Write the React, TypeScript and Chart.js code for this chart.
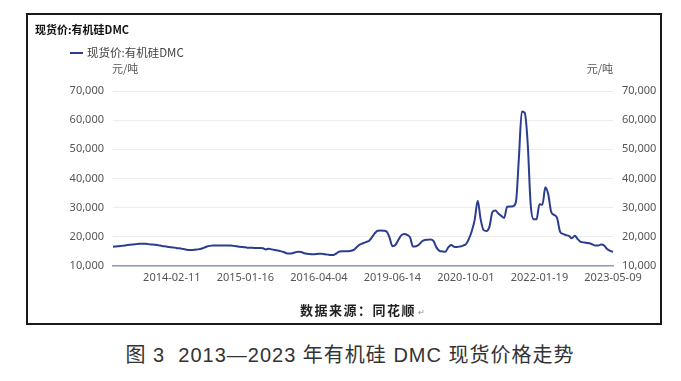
import React, { useEffect, useRef } from 'react';
import { Chart, registerables } from 'chart.js';

Chart.register(...registerables);

const chartTitle = '现货价:有机硅DMC';
const seriesName = '现货价:有机硅DMC';
const unitLabel = '元/吨';
const sourceText = '数据来源：同花顺';
const captionText = '图 3  2013—2023 年有机硅 DMC 现货价格走势';

const tickDates = ['2014-02-11', '2015-01-16', '2016-04-04', '2019-06-14', '2020-10-01', '2022-01-19', '2023-05-09'];
const tickPointIndex = [20, 45, 70, 95, 120, 145, 170];

const yMin = 10000;
const yMax = 70000;
const yStep = 10000;

const prices = [
  16600, 16700, 16800, 16900, 17000, 17200, 17300, 17400, 17500, 17600,
  17600, 17600, 17500, 17400, 17300, 17200, 17000, 16800, 16700, 16500,
  16400, 16300, 16100, 16000, 15800, 15600, 15500, 15500, 15600, 15700,
  15900, 16300, 16700, 16900, 17000, 17000, 17000, 17000, 17000, 17000,
  17000, 16900, 16800, 16600, 16500, 16400, 16300, 16300, 16200, 16200,
  16200, 16100, 15700, 15900, 15700, 15500, 15300, 15100, 14800, 14400,
  14300, 14400, 14700, 14900, 14800, 14400, 14200, 14100, 14000, 14100,
  14200, 14200, 14000, 13900, 13800, 13800, 14300, 15000, 15100, 15100,
  15100, 15200, 15600, 16600, 17400, 17800, 18200, 18600, 19800, 21200,
  22100, 22200, 22100, 21800, 19800, 16800, 17200, 18900, 20500, 21000,
  20700, 19800, 16700, 16800, 17300, 18400, 18900, 19000, 19100, 18500,
  16300, 15200, 15000, 14900, 16400, 17200, 16600, 16500, 16700, 17000,
  17500, 19300, 22000, 26000, 32400, 26000, 22300, 22000, 23500, 28500,
  29000, 28000, 27200, 26500, 30300, 30400, 30500, 32000, 47000, 63000,
  62500, 52000, 31200, 26000, 26000, 31200, 31000, 37000, 34500, 28500,
  27500, 26400, 21800, 21000, 20600, 20300, 19500, 20400, 19200, 18300,
  18100, 17900, 17800, 17400, 17000, 17000, 17400, 17000, 15800, 15200,
  14900,
];

const LINE_COLOR = '#2b3d8c';
const TICK_FONT = '"Noto Sans", "Noto Sans CJK SC", sans-serif';

export default function App() {
  const canvasRef = useRef<HTMLCanvasElement | null>(null);

  useEffect(() => {
    const canvas = canvasRef.current;
    if (!canvas) return;

    const categories = prices.map((_, i) => {
      const k = tickPointIndex.indexOf(i);
      return k >= 0 ? tickDates[k] : '';
    });

    const overlayPlugin = {
      id: 'overlayText',
      afterDraw(chart: any) {
        const ctx = chart.ctx;
        const area = chart.chartArea;
        ctx.save();
        ctx.fillStyle = '#111';
        ctx.font = 'bold 11px "Noto Sans CJK SC", sans-serif';
        ctx.textAlign = 'left';
        ctx.textBaseline = 'middle';
        ctx.fillText(chartTitle, 7, 15);
        ctx.strokeStyle = LINE_COLOR;
        ctx.lineWidth = 2;
        ctx.beginPath();
        ctx.moveTo(42, 38);
        ctx.lineTo(55, 38);
        ctx.stroke();
        ctx.fillStyle = '#444';
        ctx.font = '11.5px "Noto Sans CJK SC", sans-serif';
        ctx.fillText(seriesName, 59, 38);
        ctx.fillStyle = '#555';
        ctx.font = '11px "Noto Sans CJK SC", sans-serif';
        ctx.textAlign = 'left';
        ctx.fillText(unitLabel, area.left - 1, 54);
        ctx.textAlign = 'right';
        ctx.fillText(unitLabel, area.right, 54);
        ctx.restore();
      },
    };

    const yTickCfg = {
      color: '#555',
      font: { family: TICK_FONT, size: 11 },
      padding: 9,
      stepSize: yStep,
      callback: (v: any) => Number(v).toLocaleString('en-US'),
    };

    const chart = new Chart(canvas, {
      type: 'line',
      data: {
        labels: categories,
        datasets: [
          {
            label: seriesName,
            data: prices,
            borderColor: LINE_COLOR,
            backgroundColor: LINE_COLOR,
            borderWidth: 2,
            pointRadius: 0,
            cubicInterpolationMode: 'monotone',
            fill: false,
          },
        ],
      },
      options: {
        responsive: false,
        animation: false,
        devicePixelRatio: 1,
        layout: { padding: { top: 76, left: 0, right: 0, bottom: 0 } },
        plugins: {
          legend: { display: false },
          title: { display: false },
          tooltip: { enabled: false },
        },
        scales: {
          x: {
            type: 'category',
            grid: { display: false, drawTicks: false },
            border: { display: true, color: '#8d9dc6', width: 1.5 },
            ticks: {
              autoSkip: false,
              maxRotation: 0,
              minRotation: 0,
              padding: 5,
              color: '#555',
              font: { family: TICK_FONT, size: 11 },
            },
            afterBuildTicks: (axis: any) => {
              axis.ticks = tickPointIndex.map((v) => ({ value: v }));
            },
            afterFit: (scale: any) => {
              scale.height = 39;
            },
          },
          y: {
            position: 'left',
            min: yMin,
            max: yMax,
            grid: { color: '#ececec', lineWidth: 1, drawTicks: false },
            border: { display: false },
            ticks: yTickCfg,
            afterFit: (scale: any) => {
              scale.width = 85;
            },
          },
          y1: {
            position: 'right',
            min: yMin,
            max: yMax,
            grid: { display: false, drawTicks: false },
            border: { display: false },
            ticks: yTickCfg,
            afterFit: (scale: any) => {
              scale.width = 47;
            },
          },
        },
      } as any,
      plugins: [overlayPlugin],
    });

    return () => {
      chart.destroy();
    };
  }, []);

  return (
    <div style={{ position: 'absolute', left: 0, top: 0, width: 681, height: 381, background: '#fff', overflow: 'hidden' }}>
      <div
        style={{
          position: 'absolute',
          left: 26,
          top: 13,
          width: 636,
          height: 312,
          border: '2px solid #1a1a1a',
          boxSizing: 'border-box',
        }}
      />
      <canvas
        ref={canvasRef}
        width={632}
        height={290}
        style={{ position: 'absolute', left: 28, top: 15, width: 632, height: 290 }}
      />
      <div
        style={{
          position: 'absolute',
          left: 300,
          top: 301,
          fontFamily: '"Noto Sans CJK SC", sans-serif',
          fontWeight: 700,
          fontSize: 13,
          letterSpacing: 1.5,
          color: '#222',
          lineHeight: '18px',
          whiteSpace: 'nowrap',
        }}
      >
        {sourceText}
        <span style={{ fontSize: 8, fontWeight: 400, color: '#888', marginLeft: 2 }}>↵</span>
      </div>
      <div
        style={{
          position: 'absolute',
          left: 0,
          top: 343,
          width: 700,
          textAlign: 'center',
          fontFamily: '"Liberation Sans", "Noto Sans CJK SC", sans-serif',
          fontSize: 20,
          letterSpacing: 1,
          color: '#333',
          lineHeight: '24px',
          whiteSpace: 'pre',
        }}
      >
        {captionText}
      </div>
    </div>
  );
}
